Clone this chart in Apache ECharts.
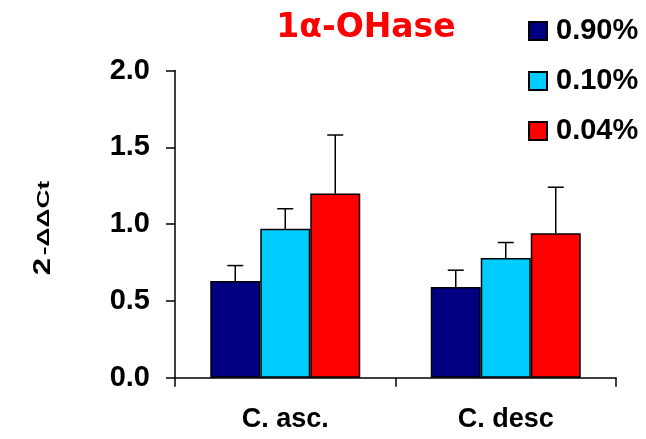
<!DOCTYPE html>
<html><head><meta charset="utf-8">
<script src="https://cdn.jsdelivr.net/npm/echarts@6/dist/echarts.min.js"></script>
<style>html,body{margin:0;padding:0;background:#fff}#c{width:646px;height:439px}</style>
</head><body><div id="c"></div>
<script>
const categories = ['C. asc.', 'C. desc'];
const seriesNames = ['0.90%', '0.10%', '0.04%'];
const val090 = [0.63, 0.59];
const val010 = [0.97, 0.78];
const val004 = [1.20, 0.94];
const err090 = [0.10, 0.11];
const err010 = [0.13, 0.10];
const err004 = [0.38, 0.30];
const yTicks = [0, 0.5, 1.0, 1.5, 2.0];
const colors = ['#000080', '#00CCFF', '#FF0000'];

const values = [val090, val010, val004];
const errors = [err090, err010, err004];
const font = '"Liberation Sans", Arial, sans-serif';
const chart = echarts.init(document.getElementById('c'));
const barW = 50;

const series = [];
seriesNames.forEach((n, i) => {
  series.push({
    name: n, type: 'bar', data: values[i], barWidth: barW, barGap: '0%',
    itemStyle: { color: colors[i], borderColor: '#000', borderWidth: 1.5 },
    z: 2
  });
});
seriesNames.forEach((n, i) => {
  const data = categories.map((c, k) => [k, values[i][k], values[i][k] + errors[i][k]]);
  series.push({
    type: 'custom', z: 1, silent: true,
    data: data,
    renderItem: function (params, api) {
      const k = api.value(0);
      const base = api.coord([k, api.value(1)]);
      const top = api.coord([k, api.value(2)]);
      const x = base[0] + (i - 1) * barW;
      const cap = 8;
      return {
        type: 'group',
        children: [
          { type: 'line', shape: { x1: x, y1: base[1], x2: x, y2: top[1] }, style: { stroke: '#000', lineWidth: 1.5 } },
          { type: 'line', shape: { x1: x - cap, y1: top[1], x2: x + cap, y2: top[1] }, style: { stroke: '#000', lineWidth: 1.5 } }
        ]
      };
    }
  });
});

chart.setOption({
  animation: false,
  title: {
    text: '1α-OHase', left: 361, top: 7, textAlign: 'center',
    textStyle: { color: '#FF0000', fontSize: 33, fontWeight: 'bold', fontFamily: '"DejaVu Sans", sans-serif' }
  },
  legend: {
    data: seriesNames, orient: 'vertical', left: 523, top: 11,
    icon: 'rect', itemWidth: 18, itemHeight: 18, itemGap: 20,
    textStyle: { fontSize: 29, lineHeight: 30, fontWeight: 'bold', color: '#000', fontFamily: font, padding: [0, 0, 0, 4] }
  },
  graphic: [{
    type: 'text', x: 44, y: 266.5, rotation: Math.PI / 2, scaleX: 1.35,
    style: { text: '2', align: 'center', verticalAlign: 'middle', font: 'bold 23px "Liberation Sans", Arial, sans-serif', fill: '#000' }
  }, {
    type: 'text', x: 44, y: 218, rotation: Math.PI / 2, scaleX: 1.55,
    style: { text: '-ΔΔCt', align: 'center', verticalAlign: 'middle', font: 'bold 17px "Liberation Sans", Arial, sans-serif', fill: '#000' }
  }],
  grid: { left: 175, right: 30, top: 70.5, bottom: 61.3, containLabel: false },
  xAxis: {
    type: 'category', data: categories,
    axisLine: { lineStyle: { color: '#000', width: 1.5 } },
    axisTick: { show: true, length: 9, lineStyle: { color: '#000', width: 1.5 } },
    axisLabel: { color: '#000', fontSize: 27, fontWeight: 'bold', fontFamily: font, margin: 28 }
  },
  yAxis: {
    type: 'value', min: 0, max: 2, interval: 0.5,
    axisLine: { show: true, lineStyle: { color: '#000', width: 1.5 } },
    axisTick: { show: true, length: 9, lineStyle: { color: '#000', width: 1.5 } },
    splitLine: { show: false },
    axisLabel: { color: '#000', fontSize: 29, fontWeight: 'bold', fontFamily: font, margin: 25, formatter: v => yTicks.includes(v) ? v.toFixed(1) : '' }
  },
  series: series
});
</script></body></html>
